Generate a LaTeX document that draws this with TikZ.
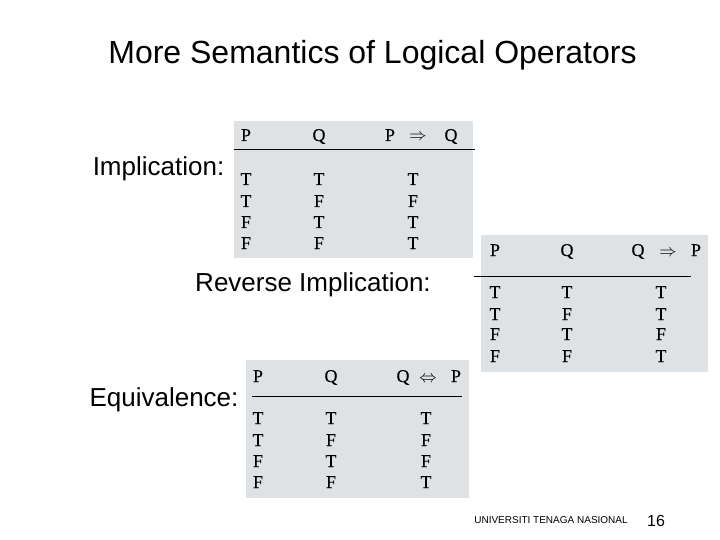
\documentclass[tikz,border=0pt]{standalone}
\usepackage{fontspec}
\setmainfont{Liberation Sans}
\newfontfamily\cellfont[FakeBold=0.25]{Liberation Serif}
\definecolor{panel}{RGB}{223,226,229}
\tikzset{
  panelbox/.style={fill=panel,draw=none},
  cell/.style={inner sep=0pt,anchor=base,font=\cellfont\fontsize{18}{20}\selectfont,text=black},
  rulebar/.style={draw=black,line width=1pt},
  heading/.style={inner sep=0pt,font=\fontsize{32}{36}\selectfont},
  sidelabel/.style={inner sep=0pt,font=\fontsize{26}{30}\selectfont},
  footer/.style={inner sep=0pt,font=\fontsize{10}{12}\selectfont},
}
\begin{document}
\begin{tikzpicture}[x=1pt,y=-1pt]
\useasboundingbox (0,0) rectangle (720,540);
% panels
\fill[panelbox] (234,121) rectangle (473,258);
\fill[panelbox] (481,235) rectangle (708,372);
\fill[panelbox] (246,360) rectangle (469,498);
% title and labels
\node[heading] (title) at (372.5,55) {More Semantics of Logical Operators};
\node[sidelabel] (impl) at (158.5,169) {Implication:};
\node[sidelabel] (rev) at (313,285) {Reverse Implication:};
\node[sidelabel] (equiv) at (164,400) {Equivalence:};
\node[footer] (uni) at (551,520) {UNIVERSITI TENAGA NASIONAL};
\node[inner sep=0pt,font=\fontsize{16}{18}\selectfont] (page) at (656,521) {16};
% table 1
\coordinate (r1a) at (234,150); \coordinate (r1b) at (475,150);
\draw[rulebar] (r1a) -- (r1b);
\node[cell] (a1) at (246,141) {P};
\node[cell] (a2) at (319,141) {Q};
\node[cell] (a3) at (390,141) {P};
\node[cell] (a4) at (418,141) {$\Rightarrow$};
\node[cell] (a5) at (451,141) {Q};
\foreach \n/\y/\p/\q/\r in {1/185/T/T/T,2/207/T/F/F,3/228/F/T/T,4/249/F/F/T}{
  \node[cell] (ap\n) at (246,\y) {\p};
  \node[cell] (aq\n) at (319,\y) {\q};
  \node[cell] (ar\n) at (413,\y) {\r};
}
% table 2
\coordinate (r2a) at (474,276); \coordinate (r2b) at (691,276);
\draw[rulebar] (r2a) -- (r2b);
\node[cell] (b1) at (495,256) {P};
\node[cell] (b2) at (567,256) {Q};
\node[cell] (b3) at (638,256) {Q};
\node[cell] (b4) at (668,256) {$\Rightarrow$};
\node[cell] (b5) at (696,256) {P};
\foreach \n/\y/\p/\q/\r in {1/298/T/T/T,2/320/T/F/T,3/340/F/T/F,4/362/F/F/T}{
  \node[cell] (bp\n) at (495,\y) {\p};
  \node[cell] (bq\n) at (567,\y) {\q};
  \node[cell] (br\n) at (661,\y) {\r};
}
% table 3
\coordinate (r3a) at (252,396); \coordinate (r3b) at (462,396);
\draw[rulebar] (r3a) -- (r3b);
\node[cell] (c1) at (258,382) {P};
\node[cell] (c2) at (331,382) {Q};
\node[cell] (c3) at (403,382) {Q};
\node[cell] (c4) at (428,382) {$\Leftrightarrow$};
\node[cell] (c5) at (456,382) {P};
\foreach \n/\y/\p/\q/\r in {1/424/T/T/T,2/446/T/F/F,3/467/F/T/F,4/488/F/F/T}{
  \node[cell] (cp\n) at (258,\y) {\p};
  \node[cell] (cq\n) at (331,\y) {\q};
  \node[cell] (cr\n) at (426,\y) {\r};
}
\end{tikzpicture}
\end{document}
